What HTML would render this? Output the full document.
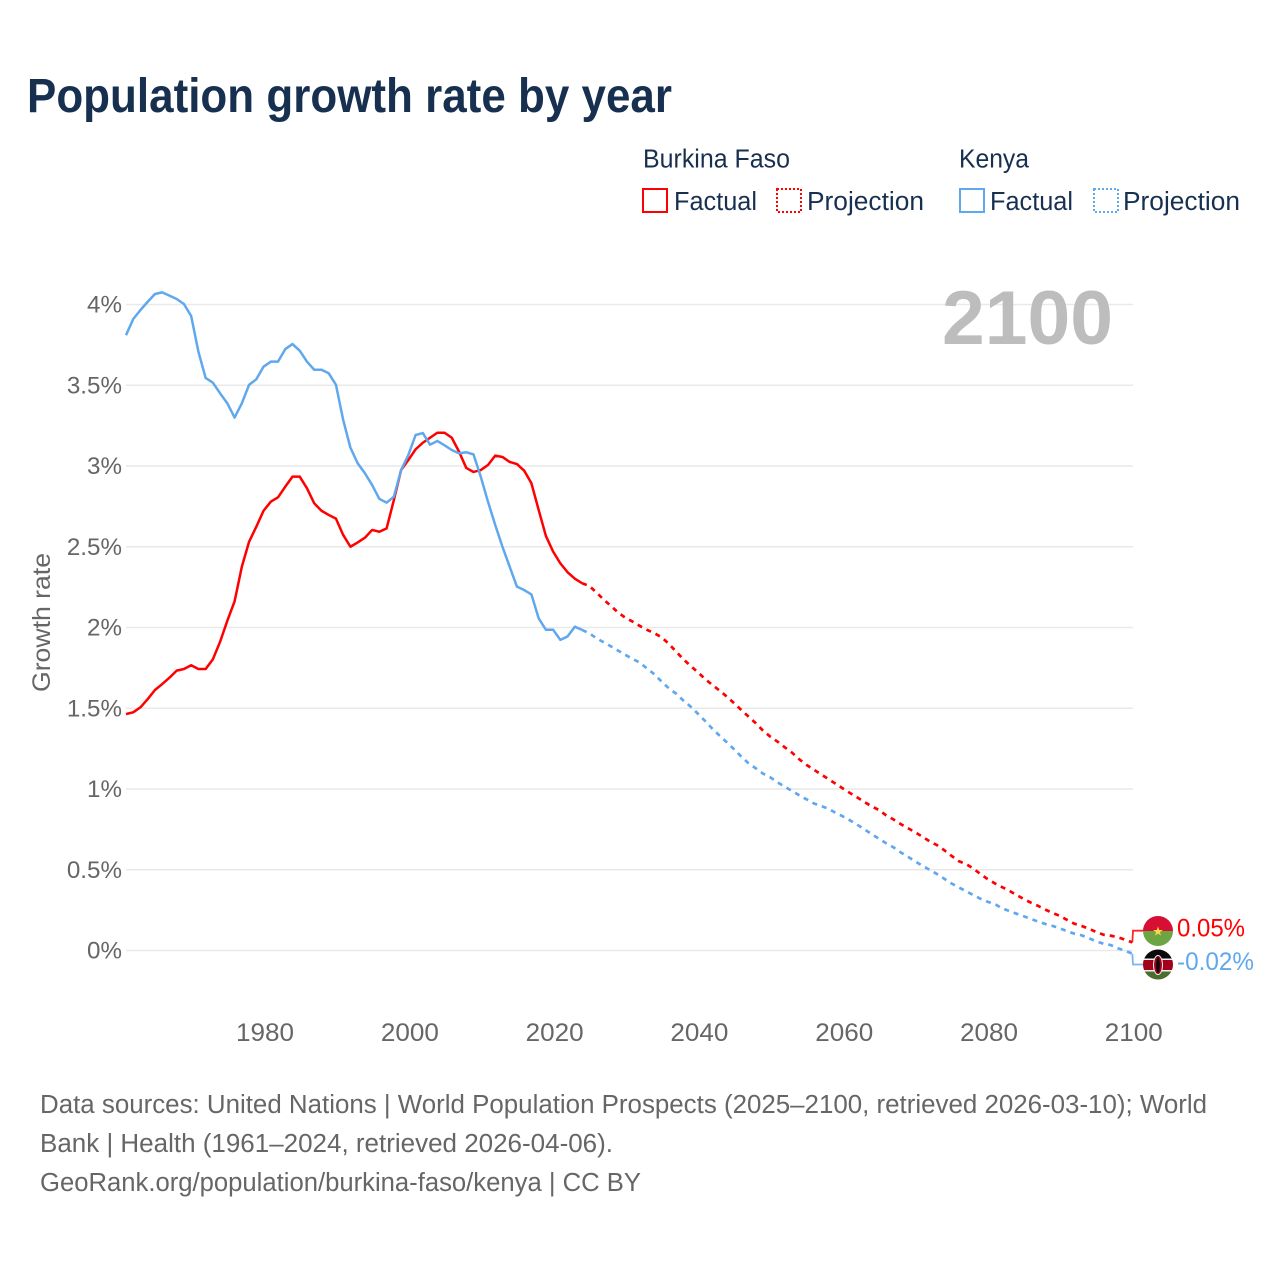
<!DOCTYPE html>
<html lang="en">
<head>
<meta charset="utf-8">
<title>Population growth rate by year</title>
<style>
html,body{margin:0;padding:0;background:#fff;width:1280px;height:1280px;overflow:hidden}
svg{display:block}
text{font-family:"Liberation Sans",sans-serif}
</style>
</head>
<body>
<svg id="chart" xmlns="http://www.w3.org/2000/svg" width="1280" height="1280" viewBox="0 0 1280 1280">
  <rect width="1280" height="1280" fill="#fff"/>
  <text x="27" y="112" font-size="48" font-weight="700" fill="#18304f" textLength="645" lengthAdjust="spacingAndGlyphs">Population growth rate by year</text>

  <g fill="#18304f" font-size="25.5">
    <text x="643" y="167.5" textLength="147" lengthAdjust="spacingAndGlyphs">Burkina Faso</text>
    <text x="959" y="167.5" textLength="70" lengthAdjust="spacingAndGlyphs">Kenya</text>
    <rect x="643" y="189" width="24" height="23" fill="none" stroke="#ff0000" stroke-width="2"/>
    <text x="674" y="210" textLength="83" lengthAdjust="spacingAndGlyphs">Factual</text>
    <rect x="777" y="189" width="24" height="23" fill="none" stroke="#ff0000" stroke-width="2" stroke-dasharray="2 2"/>
    <text x="807" y="210" textLength="117" lengthAdjust="spacingAndGlyphs">Projection</text>
    <rect x="960" y="189" width="24" height="23" fill="none" stroke="#60a8ee" stroke-width="2"/>
    <text x="990" y="210" textLength="83" lengthAdjust="spacingAndGlyphs">Factual</text>
    <rect x="1094" y="189" width="24" height="23" fill="none" stroke="#60a8ee" stroke-width="2" stroke-dasharray="2 2"/>
    <text x="1123" y="210" textLength="117" lengthAdjust="spacingAndGlyphs">Projection</text>
  </g>

  <g id="grid"></g>
  <g id="yticks"></g>
  <g id="xticks"></g>
  <text transform="translate(50,622.5) rotate(-90)" text-anchor="middle" font-size="25" fill="#666" textLength="139" lengthAdjust="spacingAndGlyphs">Growth rate</text>
  <text id="year-label" x="1113" y="344" text-anchor="end" font-size="76" font-weight="700" fill="#bdbdbd" textLength="171" lengthAdjust="spacingAndGlyphs">2100</text>
  <g id="series"></g>

  <g>
    <clipPath id="clip-bf"><circle cx="1158" cy="931" r="15"/></clipPath>
    <g clip-path="url(#clip-bf)">
      <rect x="1143" y="916" width="30" height="15" fill="#d80f35"/>
      <rect x="1143" y="931" width="30" height="15" fill="#6da544"/>
    </g>
    <polygon points="1158,926.5 1159.2,930 1162.8,930 1159.9,932.2 1161,935.6 1158,933.5 1155,935.6 1156.1,932.2 1153.2,930 1156.8,930" fill="#ffda44"/>
  </g>
  <g>
    <clipPath id="clip-ke"><circle cx="1158" cy="964.5" r="15"/></clipPath>
    <g clip-path="url(#clip-ke)">
      <rect x="1143" y="949" width="30" height="31" fill="#f0f0f0"/>
      <rect x="1143" y="949" width="30" height="9.5" fill="#0a0a0a"/>
      <rect x="1143" y="960" width="30" height="10" fill="#a2001d"/>
      <rect x="1143" y="971.5" width="30" height="9" fill="#496e2d"/>
      <ellipse cx="1158" cy="965" rx="5" ry="10" fill="#f0f0f0"/>
      <ellipse cx="1158" cy="965" rx="4" ry="9" fill="#a2001d"/>
      <ellipse cx="1158" cy="965" rx="1.8" ry="8" fill="#0a0a0a"/>
    </g>
  </g>

  <g font-size="25.5" fill="#666">
    <text x="40" y="1113" textLength="1167" lengthAdjust="spacingAndGlyphs">Data sources: United Nations | World Population Prospects (2025–2100, retrieved 2026-03-10); World</text>
    <text x="40" y="1152" textLength="573" lengthAdjust="spacingAndGlyphs">Bank | Health (1961–2024, retrieved 2026-04-06).</text>
    <text x="40" y="1191" textLength="601" lengthAdjust="spacingAndGlyphs">GeoRank.org/population/burkina-faso/kenya | CC BY</text>
  </g>
</svg>
<script>
const firstYear = 1961;
const lastYear = 2100;
const yTickValues = [0, 0.5, 1, 1.5, 2, 2.5, 3, 3.5, 4];
const yTickLabels = ["0%", "0.5%", "1%", "1.5%", "2%", "2.5%", "3%", "3.5%", "4%"];
const xTickValues = [1980, 2000, 2020, 2040, 2060, 2080, 2100];
const xTickLabels = ["1980", "2000", "2020", "2040", "2060", "2080", "2100"];

// Factual values, 1961–2024
const burkinaFactual = [1.464,1.475,1.506,1.557,1.613,1.65,1.689,1.733,1.743,1.766,1.743,1.743,1.803,1.912,2.042,2.162,2.376,2.531,2.624,2.723,2.779,2.806,2.872,2.934,2.934,2.862,2.769,2.723,2.697,2.674,2.573,2.5,2.527,2.556,2.604,2.593,2.614,2.789,2.975,3.037,3.103,3.144,3.175,3.206,3.206,3.175,3.089,2.988,2.963,2.975,3.006,3.064,3.056,3.025,3.012,2.971,2.893,2.728,2.567,2.47,2.397,2.342,2.302,2.274];
const kenyaFactual = [3.81,3.91,3.966,4.017,4.065,4.075,4.055,4.034,4.003,3.929,3.708,3.545,3.516,3.45,3.388,3.3,3.388,3.503,3.537,3.615,3.646,3.646,3.724,3.755,3.714,3.646,3.596,3.596,3.574,3.503,3.285,3.113,3.017,2.955,2.882,2.796,2.773,2.81,2.975,3.068,3.192,3.204,3.132,3.155,3.128,3.099,3.078,3.085,3.072,2.934,2.779,2.635,2.5,2.376,2.253,2.232,2.205,2.057,1.986,1.986,1.923,1.945,2.005,1.985];

// Projection values, 2025–2100
const burkinaProjection = [2.257,2.216,2.172,2.133,2.092,2.06,2.036,2.009,1.985,1.964,1.939,1.898,1.85,1.803,1.762,1.722,1.681,1.644,1.609,1.572,1.531,1.489,1.448,1.407,1.361,1.324,1.293,1.258,1.225,1.184,1.149,1.12,1.091,1.062,1.033,1.004,0.975,0.948,0.919,0.893,0.87,0.837,0.812,0.783,0.758,0.732,0.705,0.676,0.653,0.622,0.587,0.554,0.536,0.509,0.474,0.443,0.416,0.393,0.37,0.344,0.319,0.296,0.276,0.253,0.232,0.214,0.189,0.166,0.152,0.135,0.115,0.098,0.092,0.082,0.067,0.05];
const kenyaProjection = [1.964,1.933,1.908,1.883,1.856,1.83,1.805,1.782,1.745,1.71,1.664,1.623,1.59,1.547,1.51,1.466,1.421,1.373,1.33,1.289,1.246,1.2,1.159,1.128,1.095,1.072,1.041,1.014,0.988,0.961,0.936,0.911,0.895,0.878,0.853,0.831,0.806,0.779,0.75,0.721,0.692,0.664,0.639,0.608,0.581,0.552,0.525,0.5,0.474,0.445,0.416,0.391,0.368,0.344,0.321,0.302,0.288,0.261,0.245,0.228,0.212,0.195,0.179,0.164,0.152,0.137,0.119,0.104,0.094,0.076,0.057,0.042,0.034,0.014,-0.001,-0.02];

const NS = "http://www.w3.org/2000/svg";
const RED = "#ff0000";
const BLUE = "#60a8ee";
const plotLeft = 126, plotRight = 1132.3, gridRight = 1133;
const zeroY = 950.5, pxPerPercent = 161.5;

function xScale(year) { return plotLeft + (year - firstYear) * (plotRight - plotLeft) / (lastYear - firstYear); }
function yScale(v) { return zeroY - v * pxPerPercent; }

function make(tag, attrs, parent) {
  const el = document.createElementNS(NS, tag);
  for (const k in attrs) el.setAttribute(k, attrs[k]);
  parent.appendChild(el);
  return el;
}

const gridG = document.getElementById("grid");
const yG = document.getElementById("yticks");
const xG = document.getElementById("xticks");
const seriesG = document.getElementById("series");

yTickValues.forEach(function (v, i) {
  const line = make("line", { x1: plotLeft, x2: gridRight, y1: yScale(v), y2: yScale(v), stroke: "#e9e9e9", "stroke-width": 1.5 }, gridG);
  
  
  const t = make("text", { x: 122, y: yScale(v) + 8, "text-anchor": "end", "font-size": 24.2, fill: "#666" }, yG);
  
  
  t.textContent = yTickLabels[i];
});

xTickValues.forEach(function (yr, i) {
  const t = make("text", { x: xScale(yr) + 1.5, y: 1041, "text-anchor": "middle", "font-size": 25, fill: "#666", textLength: 58, lengthAdjust: "spacingAndGlyphs" }, xG);
  
  
  t.textContent = xTickLabels[i];
});

function pathFrom(points) {
  return points.map(function (p, i) { return (i ? "L" : "M") + xScale(p[0]).toFixed(2) + " " + yScale(p[1]).toFixed(2); }).join("");
}

function drawCountry(factual, projection, color, key) {
  const factPts = factual.map(function (v, i) { return [firstYear + i, v]; });
  const projStart = firstYear + factual.length;
  const projPts = [factPts[factPts.length - 1]].concat(projection.map(function (v, i) { return [projStart + i, v]; }));

  const f = make("path", { d: pathFrom(factPts), fill: "none", stroke: color, "stroke-width": 2.5, "stroke-linejoin": "round" }, seriesG);
  
  

  const p = make("path", { d: pathFrom(projPts), fill: "none", stroke: color, "stroke-width": 2.7, "stroke-dasharray": "5 5" }, seriesG);
  
  
}

drawCountry(burkinaFactual, burkinaProjection, RED, "burkina-faso");
drawCountry(kenyaFactual, kenyaProjection, BLUE, "kenya");

function drawEnd(projection, color, key, flagY, labelY, labelWidth) {
  const last = projection[projection.length - 1];
  const ex = xScale(lastYear), ey = yScale(last);
  const c = make("path", { d: "M" + ex + " " + ey + "L" + (ex + 0.7) + " " + flagY + "L1143 " + flagY, fill: "none", stroke: color, "stroke-width": 1.8, opacity: 0.85 }, seriesG);
  
  
  const t = make("text", { x: 1177, y: labelY, "font-size": 25, fill: color, textLength: labelWidth, lengthAdjust: "spacingAndGlyphs" }, seriesG);
  
  
  t.textContent = last.toFixed(2) + "%";
}

drawEnd(burkinaProjection, RED, "burkina-faso", 930.7, 936.5, 68);
drawEnd(kenyaProjection, BLUE, "kenya", 964.5, 970, 77);
</script>
</body>
</html>
